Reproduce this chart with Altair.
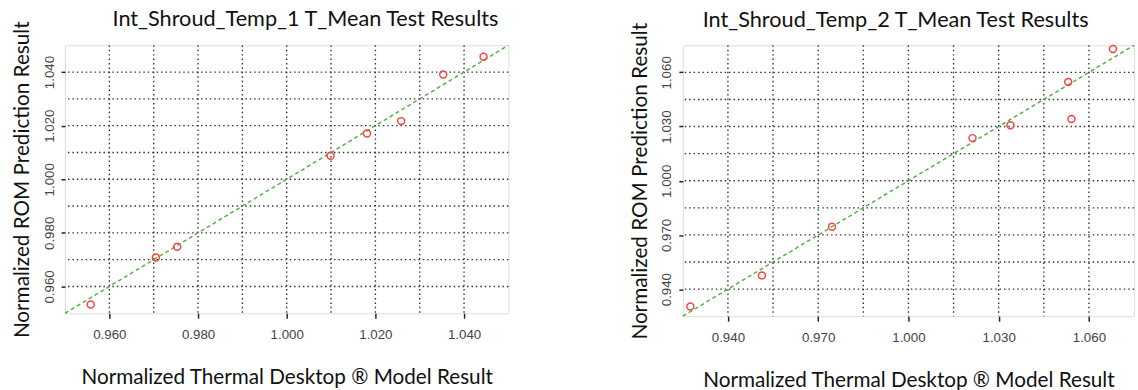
import altair as alt
import pandas as pd

# ---- data ----
x1 = [0.9558, 0.9705, 0.9753, 1.0099, 1.0181, 1.0258, 1.0353, 1.0444]
y1 = [0.9533, 0.9708, 0.9748, 1.0088, 1.0171, 1.0217, 1.0391, 1.0457]
x2 = [0.9275, 0.9513, 0.9746, 1.0213, 1.0339, 1.0531, 1.0542, 1.0680]
y2 = [0.9304, 0.9476, 0.9745, 1.0236, 1.0307, 1.0547, 1.0342, 1.0729]

domain1 = [0.95, 1.05]
domain2 = [0.925, 1.075]
grid1 = [0.96, 0.97, 0.98, 0.99, 1.00, 1.01, 1.02, 1.03, 1.04]
ticks1 = [0.96, 0.98, 1.00, 1.02, 1.04]
grid2 = [0.94, 0.955, 0.97, 0.985, 1.00, 1.015, 1.03, 1.045, 1.06]
ticks2 = [0.94, 0.97, 1.00, 1.03, 1.06]

title1 = "Int_Shroud_Temp_1 T_Mean Test Results"
title2 = "Int_Shroud_Temp_2 T_Mean Test Results"
x_title = "Normalized Thermal Desktop \u00ae Model Result"
y_title = "Normalized ROM Prediction Result"

TITLE_FONT = "Lato"
LABEL_FONT = "Liberation Sans"


def panel(xs, ys, dom, grid, ticks, title, w, h, tdx):
    pts = pd.DataFrame({"x": xs, "y": ys})
    gdf = pd.DataFrame({"v": grid})
    diag = pd.DataFrame({"x": dom, "y": dom})
    scale = alt.Scale(domain=dom, nice=False, zero=False)
    xax = alt.Axis(values=ticks, format=".3f", title=x_title, grid=False, domain=False,
                   tickSize=5, tickColor="#222", tickWidth=1.5,
                   labelFont=LABEL_FONT, labelFontSize=13.5, labelColor="#444",
                   labelPadding=10, titleFont=TITLE_FONT, titleFontSize=21,
                   titleFontWeight="normal", titleColor="#111", titlePadding=26)
    yax = alt.Axis(values=ticks, format=".3f", title=y_title, grid=False, domain=False,
                   tickSize=4, tickColor="#222", tickWidth=1.5,
                   labelFont=LABEL_FONT, labelFontSize=13.5, labelColor="#444",
                   labelAngle=270, labelAlign="center", labelBaseline="bottom",
                   labelPadding=5, titleFont=TITLE_FONT, titleFontSize=21,
                   titleFontWeight="normal", titleColor="#111", titlePadding=10)
    vr = alt.Chart(gdf).mark_rule(color="#333", strokeDash=[1.5, 3], strokeWidth=1.4).encode(
        x=alt.X("v:Q", scale=scale, axis=xax))
    hr = alt.Chart(gdf).mark_rule(color="#333", strokeDash=[1.5, 3], strokeWidth=1.4).encode(
        y=alt.Y("v:Q", scale=scale, axis=yax))
    line = alt.Chart(diag).mark_line(color="#55b04a", strokeDash=[4, 3], strokeWidth=1.5).encode(
        x=alt.X("x:Q", scale=scale, axis=xax), y=alt.Y("y:Q", scale=scale, axis=yax))
    points = alt.Chart(pts).mark_point(shape="circle", filled=False, color="#ff4040",
                                       size=50, strokeWidth=1.5, opacity=1).encode(
        x=alt.X("x:Q", scale=scale, axis=xax), y=alt.Y("y:Q", scale=scale, axis=yax))
    return alt.layer(vr, hr, line, points).properties(
        width=w, height=h,
        title=alt.TitleParams(title, font=TITLE_FONT, fontSize=22, fontWeight="normal",
                              color="#111", anchor="middle", frame="group", offset=-10,
                              dx=tdx))


left = panel(x1, y1, domain1, grid1, ticks1, title1, 450, 272, 19)
right = panel(x2, y2, domain2, grid2, ticks2, title2, 458, 275, -13)

chart = alt.hconcat(left, right, spacing=118).properties(
    padding={"left": 11, "top": 4, "right": 0, "bottom": 0}
).configure_view(stroke="#666", strokeWidth=2).configure(background="white")

chart.save("out.html", embed_options={"renderer": "svg", "actions": False})
